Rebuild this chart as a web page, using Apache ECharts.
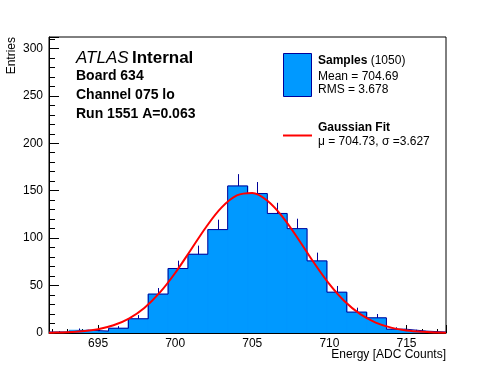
<!DOCTYPE html>
<html><head><meta charset="utf-8">
<script src="https://cdn.jsdelivr.net/npm/echarts@6/dist/echarts.min.js"></script>
<style>html,body{margin:0;padding:0;background:#fff}#c{width:496px;height:372px}</style>
</head><body><div id="c"></div>
<script>
// ---- data ----
const histMin = 691.82;
const histMax = 717.56;
const binWidth = 1.287;
const counts = [1, 3, 2, 5, 15, 41, 68, 83, 109, 155, 147, 126, 110, 76, 43, 22, 16, 4, 2, 1];
const fitX = [691.82, 692, 693, 694, 695, 696, 697, 698, 699, 700, 701, 702, 703, 704, 705, 706, 707, 708, 709, 710, 711, 712, 713, 714, 715, 716, 717, 717.56];
const fitY = [0.26, 0.31, 0.79, 1.86, 4.05, 8.17, 15.27, 26.46, 42.49, 63.24, 87.22, 111.5, 132.1, 145.0, 147.6, 139.2, 121.7, 98.6, 74.0, 51.5, 33.2, 19.85, 11.0, 5.65, 2.69, 1.19, 0.48, 0.28];
const xTickLabels = [695, 700, 705, 710, 715];
const yTickLabels = [0, 50, 100, 150, 200, 250, 300];
const yMax = 312;

// ---- derived series ----
const binData = counts.map((c, k) => [histMin + k * binWidth, histMin + (k + 1) * binWidth, c]);
const outline = [];
binData.forEach(b => { outline.push([b[0], b[2]]); outline.push([b[1], b[2]]); });
const fitData = fitX.map((x, i) => [x, fitY[i]]);

const FONT = '"Liberation Sans", Arial, Helvetica, sans-serif';
const NAVY = '#000099';
const FILL = '#0099ff';

const chart = echarts.init(document.getElementById('c'), null, {renderer: 'canvas'});
chart.setOption({
  animation: false,
  backgroundColor: '#fff',
  grid: {left: 49, right: 50, top: 37, bottom: 39, show: true, borderColor: '#000', borderWidth: 1, backgroundColor: 'transparent'},
  xAxis: {
    type: 'value', min: histMin, max: histMax, splitNumber: 5, minInterval: 5, maxInterval: 5,
    axisLine: {show: true, onZero: false, lineStyle: {color: '#000', width: 1}},
    axisTick: {show: true, inside: true, length: 8, lineStyle: {color: '#000'}},
    minorTick: {show: true, splitNumber: 5, length: 4, lineStyle: {color: '#000'}},
    splitLine: {show: false},
    axisLabel: {
      show: true, margin: 5, fontSize: 12, color: '#000', fontFamily: FONT,
      showMinLabel: false, showMaxLabel: false,
      formatter: v => xTickLabels.some(t => Math.abs(t - v) < 1e-6) ? String(Math.round(v)) : ''
    }
  },
  yAxis: {
    type: 'value', min: 0, max: yMax, interval: 50,
    axisLine: {show: true, lineStyle: {color: '#000', width: 1}},
    axisTick: {show: true, inside: true, length: 10, lineStyle: {color: '#000'}},
    minorTick: {show: true, splitNumber: 5, length: 6, lineStyle: {color: '#000'}},
    splitLine: {show: false},
    axisLabel: {
      show: true, margin: 6, fontSize: 12, color: '#000', fontFamily: FONT,
      formatter: v => yTickLabels.indexOf(Math.round(v)) >= 0 && Math.abs(v - Math.round(v)) < 1e-6 ? String(Math.round(v)) : ''
    }
  },
  series: [
    {
      type: 'custom', name: 'Samples', data: binData, clip: true,
      encode: {x: [0, 1], y: 2},
      renderItem: function (params, api) {
        const x0 = api.value(0), x1 = api.value(1), c = api.value(2);
        const pLo = api.coord([x0, 0]);
        const pHi = api.coord([x1, c]);
        const xc = (x0 + x1) / 2;
        const pc = api.coord([xc, c]);
        const pe = api.coord([xc, c + Math.sqrt(c)]);
        const rx = Math.round(pLo[0]);
        const rw = Math.round(pHi[0]) - rx;
        return {
          type: 'group',
          children: [
            {type: 'rect', shape: {x: rx, y: pHi[1], width: rw, height: pLo[1] - pHi[1]}, style: {fill: FILL, stroke: FILL, lineWidth: 0.6}},
            {type: 'line', shape: {x1: Math.round(pc[0]) + 0.5, y1: pc[1], x2: Math.round(pe[0]) + 0.5, y2: pe[1]}, style: {stroke: NAVY, lineWidth: 1}}
          ]
        };
      }
    },
    {
      type: 'line', name: 'outline', data: outline, symbol: 'none', silent: true,
      lineStyle: {color: NAVY, width: 1}
    },
    {
      type: 'line', name: 'Gaussian Fit', data: fitData, symbol: 'none', smooth: 0.35, silent: true,
      lineStyle: {color: '#ff0000', width: 2}
    }
  ],
  graphic: [
    {type: 'text', x: 12, y: 37, rotation: Math.PI / 2,
      style: {text: 'Entries', fontSize: 12, fontFamily: FONT, fill: '#000', align: 'right', verticalAlign: 'middle'}},
    {type: 'text', x: 446, y: 355,
      style: {text: 'Energy [ADC Counts]', fontSize: 12, fontFamily: FONT, fill: '#000', align: 'right', verticalAlign: 'middle'}},
    {type: 'text', x: 76, y: 58,
      style: {text: '{a|ATLAS} {b|Internal}', verticalAlign: 'middle', align: 'left',
        rich: {a: {fontSize: 17, fontStyle: 'italic', fontFamily: FONT, fill: '#000'}, b: {fontSize: 17, fontWeight: 'bold', fontFamily: FONT, fill: '#000'}}}},
    {type: 'text', x: 76, y: 76, style: {text: 'Board 634', fontSize: 14, fontWeight: 'bold', fontFamily: FONT, fill: '#000', verticalAlign: 'middle'}},
    {type: 'text', x: 76, y: 95, style: {text: 'Channel 075 lo', fontSize: 14, fontWeight: 'bold', fontFamily: FONT, fill: '#000', verticalAlign: 'middle'}},
    {type: 'text', x: 76, y: 114, style: {text: 'Run 1551 A=0.063', fontSize: 14, fontWeight: 'bold', fontFamily: FONT, fill: '#000', verticalAlign: 'middle'}},
    {type: 'rect', shape: {x: 283.5, y: 53.5, width: 28, height: 43}, style: {fill: FILL, stroke: NAVY, lineWidth: 1}},
    {type: 'text', x: 318, y: 61,
      style: {text: '{b|Samples} {r|(1050)}', verticalAlign: 'middle',
        rich: {b: {fontSize: 12, fontWeight: 'bold', fontFamily: FONT, fill: '#000'}, r: {fontSize: 12, fontFamily: FONT, fill: '#000'}}}},
    {type: 'text', x: 318, y: 77, style: {text: 'Mean = 704.69', fontSize: 12, fontFamily: FONT, fill: '#000', verticalAlign: 'middle'}},
    {type: 'text', x: 318, y: 90, style: {text: 'RMS = 3.678', fontSize: 12, fontFamily: FONT, fill: '#000', verticalAlign: 'middle'}},
    {type: 'line', shape: {x1: 283, y1: 135.5, x2: 312, y2: 135.5}, style: {stroke: '#ff0000', lineWidth: 2}},
    {type: 'text', x: 318, y: 128, style: {text: 'Gaussian Fit', fontSize: 12, fontWeight: 'bold', fontFamily: FONT, fill: '#000', verticalAlign: 'middle'}},
    {type: 'text', x: 318, y: 142, style: {text: 'μ = 704.73, σ =3.627', fontSize: 12, fontFamily: FONT, fill: '#000', verticalAlign: 'middle'}}
  ]
});
</script>
</body></html>
